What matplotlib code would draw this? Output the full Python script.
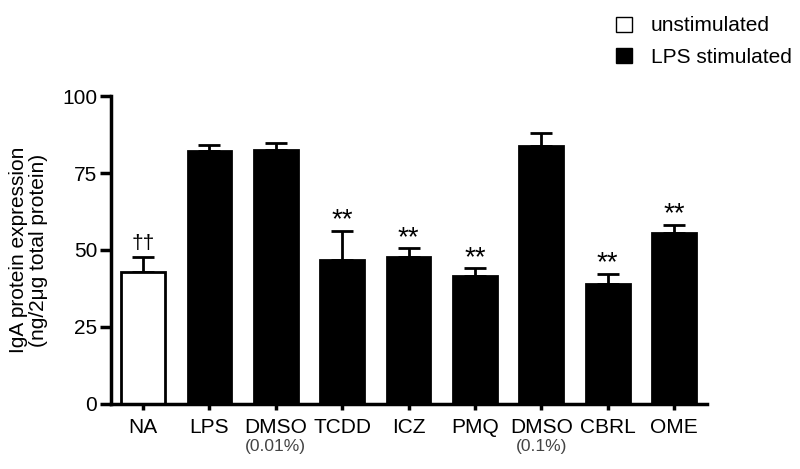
import matplotlib.pyplot as plt
import numpy as np
from matplotlib.patches import Patch
from matplotlib.transforms import blended_transform_factory

plt.rcParams["font.family"] = ["Liberation Sans", "DejaVu Sans"]

# data
groups = ["NA", "LPS", "DMSO", "TCDD", "ICZ", "PMQ", "DMSO", "CBRL", "OME"]
sublabels = ["", "", "(0.01%)", "", "", "", "(0.1%)", "", ""]
means = [42.8, 82.3, 82.6, 46.6, 47.8, 41.6, 83.8, 39.0, 55.4]
sem = [4.8, 1.7, 2.2, 9.6, 2.7, 2.4, 4.1, 3.2, 2.8]
stimulated = [False, True, True, True, True, True, True, True, True]
marks = ["††", "", "", "**", "**", "**", "", "**", "**"]

fig = plt.figure(figsize=(8, 4.69), dpi=100)
ax = fig.add_axes([0.139, 0.139, 0.745, 0.656])

x = np.arange(len(groups))
colors = ["black" if s else "white" for s in stimulated]
ax.bar(x, means, width=0.66, color=colors, edgecolor="black", linewidth=2, zorder=2)
ax.errorbar(x, means, yerr=[np.zeros(len(sem)), sem], fmt="none", ecolor="black",
            elinewidth=2, capsize=8, capthick=2, zorder=1)

for xi, m, e, t in zip(x, means, sem, marks):
    if t == "**":
        ax.text(xi, m + e - 0.8, t, ha="center", va="bottom", fontsize=20)
    elif t:
        ax.text(xi, m + e + 1.5, t, ha="center", va="bottom", fontsize=15)

ax.set_xlim(-0.48, 8.5)
ax.set_ylim(0, 100)
ax.set_yticks([0, 25, 50, 75, 100])
ax.set_xticks(x)
ax.set_xticklabels(groups, fontsize=15)
ax.tick_params(axis="y", labelsize=15, width=2.5, length=8, direction="out", pad=2)
ax.tick_params(axis="x", width=2.5, length=4, direction="out", pad=6)
for side in ["top", "right"]:
    ax.spines[side].set_visible(False)
for side in ["left", "bottom"]:
    ax.spines[side].set_linewidth(2.5)

trans = blended_transform_factory(ax.transData, ax.transAxes)
for xi, s in zip(x, sublabels):
    if s:
        ax.text(xi, -0.115, s, transform=trans, ha="center", va="top",
                fontsize=12.5, color="#444444")

ax.set_ylabel("IgA protein expression\n(ng/2μg total protein)", fontsize=15,
              labelpad=10, linespacing=1.1)

handles = [Patch(facecolor="white", edgecolor="black", linewidth=1),
           Patch(facecolor="black", edgecolor="black")]
fig.legend(handles, ["unstimulated", "LPS stimulated"], loc="upper left",
           bbox_to_anchor=(0.747, 1.005), frameon=False, fontsize=15,
           handlelength=0.75, handleheight=0.75, labelspacing=0.6, handletextpad=0.9)

fig.savefig("out.png", dpi=100)
